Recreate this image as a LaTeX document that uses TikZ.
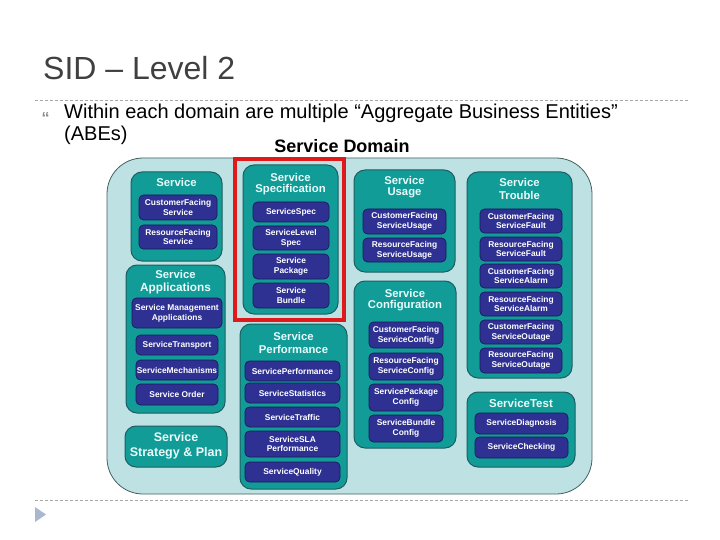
\documentclass[tikz,border=0pt]{standalone}
\usepackage{fontspec}
\setmainfont{Liberation Sans}
\definecolor{bgcyan}{HTML}{BEE2E4}
\definecolor{bgborder}{HTML}{44605F}
\definecolor{tealfill}{HTML}{119C97}
\definecolor{tealborder}{HTML}{1E5E60}
\definecolor{navyfill}{HTML}{2E3192}
\definecolor{navyborder}{HTML}{1A1A5A}
\definecolor{titlelight}{HTML}{EAFBFB}
\definecolor{slidegray}{HTML}{404040}
\definecolor{dashgray}{HTML}{A6A6A6}
\definecolor{bulletgray}{HTML}{8C8C8C}
\definecolor{arrowblue}{HTML}{A9B8CF}
\definecolor{redframe}{HTML}{E01A1A}
\newcommand\placebox[7]{%
  \node[#1, minimum width={(#5-#3)*1pt}, minimum height={(#6-#4)*1pt}] (#2) at ({(#3+#5)/2},{(#4+#6)/2}) {#7};}
\begin{document}
\begin{tikzpicture}[x=1pt,y=-1pt,
  grp/.style={draw=tealborder, fill=tealfill, rounded corners=11pt, line width=1pt, inner sep=0pt},
  abe/.style={draw=navyborder, fill=navyfill, rounded corners=4.5pt, line width=0.7pt, inner sep=0pt,
      text=white, align=center, font=\bfseries\fontsize{8.4}{9.8}\selectfont},
  gtitle/.style={text=titlelight, align=center, inner sep=0pt, font=\bfseries\fontsize{11.3}{13}\selectfont},
  sep/.style={draw=dashgray, line width=0.8pt, dash pattern=on 3pt off 2pt}]
\useasboundingbox (0,0) rectangle (720,540);

% slide title and text
\node[anchor=base west, inner sep=0pt, text=slidegray, font=\fontsize{32}{36}\selectfont] (title) at (43,80) {SID – Level 2};
\coordinate (sepL1) at (35,100);
\coordinate (sepR1) at (688,100);
\draw[sep] (sepL1) -- (sepR1);
\node[anchor=base west, inner sep=0pt, text=bulletgray, font=\bfseries\fontsize{16}{16}\selectfont] (bullet) at (41.5,124) {“};
\node[anchor=base west, inner sep=0pt, font=\fontsize{20}{22}\selectfont] (line1) at (64,119) {Within each domain are multiple “Aggregate Business Entities”};
\node[anchor=base west, inner sep=0pt, font=\fontsize{20}{22}\selectfont] (line2) at (64,141) {(ABEs)};
\node[anchor=base, inner sep=0pt, font=\bfseries\fontsize{18}{20}\selectfont] (domain) at (342,153) {Service Domain};

% outer domain background
\placebox{draw=bgborder, fill=bgcyan, rounded corners=36pt, line width=0.8pt, inner sep=0pt}{outer}{107}{158}{592}{494}{}

% column 1
\placebox{grp}{gsvc}{131}{172}{222}{261}{}
\node[gtitle] (tsvc) at (176.5,182) {Service};
\placebox{abe}{cfs}{139}{195}{217}{220}{CustomerFacing\\Service}
\placebox{abe}{rfs}{139}{225}{217}{249}{ResourceFacing\\Service}

\placebox{grp}{gapp}{126}{265}{225}{413}{}
\node[gtitle] (tapp1) at (175.5,274) {Service};
\node[gtitle, font=\bfseries\fontsize{11.8}{13}\selectfont] (tapp2) at (175.5,288) {Applications};
\placebox{abe}{sma}{132}{298}{222}{328}{Service Management\\Applications}
\placebox{abe}{stransp}{136}{335}{218}{355}{ServiceTransport}
\placebox{abe}{smech}{136}{360}{218}{380}{ServiceMechanisms}
\placebox{abe}{sorder}{136}{384}{218}{405}{Service Order}

\placebox{grp}{gstrat}{125}{426}{227}{467}{}
\node[gtitle, font=\bfseries\fontsize{12.5}{15}\selectfont] (tstrat) at (176,446) {Service\\Strategy \& Plan};

% column 2
\placebox{grp}{gspec}{243}{165}{338}{314}{}
\node[gtitle] (tspec1) at (290.5,177) {Service};
\node[gtitle] (tspec2) at (290.5,190) {Specification};
\placebox{abe}{sspec}{253}{202}{329}{222}{ServiceSpec}
\placebox{abe}{slspec}{253}{226}{329}{250}{ServiceLevel\\Spec}
\placebox{abe}{spack}{253}{254}{329}{279}{Service\\Package}
\placebox{abe}{sbund}{253}{283}{329}{308}{Service\\Bundle}
\draw[draw=redframe, line width=3.5pt] (235,159) rectangle (344,320);

\placebox{grp}{gperf}{240}{324}{347}{489}{}
\node[gtitle] (tperf1) at (293.5,336) {Service};
\node[gtitle] (tperf2) at (293.5,349) {Performance};
\placebox{abe}{sperf}{245}{361}{340}{381}{ServicePerformance}
\placebox{abe}{sstat}{245}{383}{340}{403}{ServiceStatistics}
\placebox{abe}{straf}{245}{407}{340}{427}{ServiceTraffic}
\placebox{abe}{ssla}{245}{431}{340}{457}{ServiceSLA\\Performance}
\placebox{abe}{squal}{245}{462}{340}{482}{ServiceQuality}

% column 3
\placebox{grp}{gusage}{354}{170}{455}{272}{}
\node[gtitle] (tusage1) at (404.5,180) {Service};
\node[gtitle] (tusage2) at (404.5,193) {Usage};
\placebox{abe}{cfsu}{363}{209}{446}{234}{CustomerFacing\\ServiceUsage}
\placebox{abe}{rfsu}{363}{238}{446}{262}{ResourceFacing\\ServiceUsage}

\placebox{grp}{gconf}{354}{281}{456}{448}{}
\node[gtitle] (tconf1) at (405,293) {Service};
\node[gtitle] (tconf2) at (405,306) {Configuration};
\placebox{abe}{cfsc}{369}{322}{443}{348}{CustomerFacing\\ServiceConfig}
\placebox{abe}{rfsc}{369}{353}{443}{380}{ResourceFacing\\ServiceConfig}
\placebox{abe}{spc}{369}{384}{443}{411}{ServicePackage\\Config}
\placebox{abe}{sbc}{369}{415}{443}{442}{ServiceBundle\\Config}

% column 4
\placebox{grp}{gtroub}{467}{172}{572}{378}{}
\node[gtitle] (ttroub1) at (519.5,182) {Service};
\node[gtitle] (ttroub2) at (519.5,195) {Trouble};
\placebox{abe}{cfsf}{480}{209}{562}{233}{CustomerFacing\\ServiceFault}
\placebox{abe}{rfsf}{480}{237}{562}{261}{ResourceFacing\\ServiceFault}
\placebox{abe}{cfsa}{480}{264}{562}{288}{CustomerFacing\\ServiceAlarm}
\placebox{abe}{rfsa}{480}{292}{562}{316}{ResourceFacing\\ServiceAlarm}
\placebox{abe}{cfso}{480}{320}{562}{344}{CustomerFacing\\ServiceOutage}
\placebox{abe}{rfso}{480}{348}{562}{373}{ResourceFacing\\ServiceOutage}

\placebox{grp}{gtest}{467}{392}{575}{467}{}
\node[gtitle, font=\bfseries\fontsize{11.5}{13}\selectfont] (ttest) at (521,403) {ServiceTest};
\placebox{abe}{sdiag}{475}{413}{568}{434}{ServiceDiagnosis}
\placebox{abe}{scheck}{475}{437}{568}{458}{ServiceChecking}

% bottom separator and arrow
\coordinate (sepL2) at (35,500);
\coordinate (sepR2) at (688,500);
\draw[sep] (sepL2) -- (sepR2);
\fill[arrowblue] (35,507) -- (46,514.5) -- (35,522) -- cycle;
\end{tikzpicture}
\end{document}
